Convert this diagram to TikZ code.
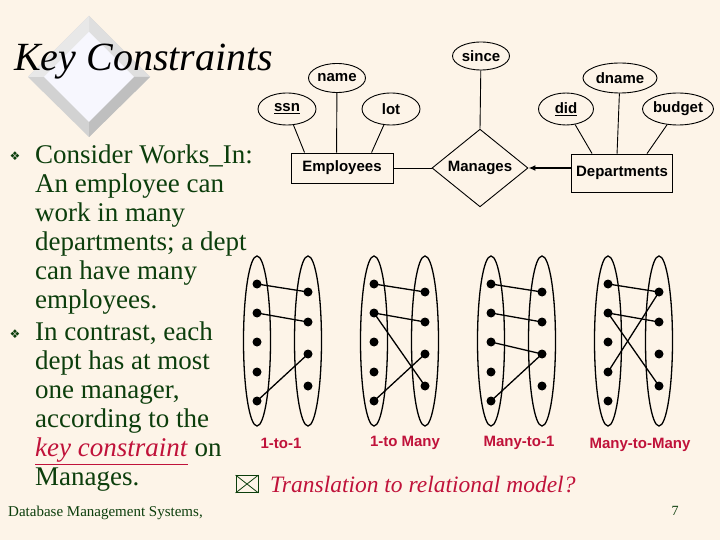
\documentclass[tikz,border=0pt]{standalone}
\usepackage{fontspec}
\setmainfont{Liberation Serif}
\newfontfamily\arialfont{Liberation Sans}
\newfontfamily\symfont{DejaVu Sans}
\usetikzlibrary{shapes.geometric,arrows.meta,positioning}
\definecolor{cream}{RGB}{253,244,232}
\definecolor{slidegreen}{RGB}{12,62,12}
\definecolor{crimson}{RGB}{192,18,58}
\tikzset{
  attr/.style={draw, ellipse, inner sep=0pt, line width=0.9pt,
    font=\arialfont\bfseries\fontsize{15}{15}\selectfont},
  entity/.style={draw, rectangle, inner sep=0pt, line width=0.9pt,
    font=\arialfont\bfseries\fontsize{15}{15}\selectfont},
  relship/.style={draw, diamond, inner sep=0pt, line width=0.9pt,
    minimum width=96, minimum height=72,
    font=\arialfont\bfseries\fontsize{15}{15}\selectfont},
  setoval/.style={draw, ellipse, line width=1.3pt, minimum width=27, minimum height=170},
  elem/.style={circle, fill=black, inner sep=0pt, minimum size=9},
  link/.style={line width=1.3pt},
  kindlbl/.style={text=crimson, font=\arialfont\bfseries\fontsize{15}{15}\selectfont},
  bodytext/.style={text=slidegreen, inner sep=0pt, align=left, anchor=north west,
    font=\fontsize{27}{29}\selectfont},
  bulletmark/.style={text=slidegreen, inner sep=0pt, font=\symfont\fontsize{12}{12}\selectfont}
}
\begin{document}
\begin{tikzpicture}[x=1pt, y=-1pt]
  \fill[cream] (0,0) rectangle (720,540);
  \useasboundingbox (0,0) rectangle (720,540);
  % title with bevelled diamond
  \fill[gray!35] (89,16) -- (150,77) -- (89,137) -- (28,77) -- cycle;
  \fill[gray!25] (89,16) -- (150,77) -- (89,77) -- cycle;
  \fill[gray!18] (89,16) -- (28,77) -- (89,77) -- cycle;
  \fill[gray!50] (89,137) -- (150,77) -- (89,77) -- cycle;
  \fill[black!10!blue!3!white] (89,32) -- (134,77) -- (89,122) -- (44,77) -- cycle;
  \node[anchor=base west, inner sep=0pt, font=\itshape\fontsize{40}{40}\selectfont] (title) at (14,71) {Key Constraints};
  % bullets
  \node[bulletmark] (b1) at (15,156) {❖};
  \node[bodytext] (p1) at (35,145) {Consider Works\_In:\\An employee can\\work in many\\departments; a dept\\can have many\\employees.};
  \node[bulletmark] (b2) at (15,334) {❖};
  \node[bodytext] (p2) at (35,322) {In contrast, each\\dept has at most\\one manager,\\according to the\\\textcolor{crimson}{\underline{\textit{key constraint}}} on\\Manages.};
  % ER diagram
  \node[entity, minimum width=102, minimum height=30] (emp) at (342,168) {Employees};
  \node[relship] (man) at (480,168) {\raisebox{-4pt}{Manages}};
  \node[entity, minimum width=101, minimum height=38] (dep) at (622,173) {Departments};
  \node[attr, minimum width=58, minimum height=32] (ssn) at (287,109) {\underline{ssn}};
  \node[attr, minimum width=57, minimum height=29] (name) at (337,78) {name};
  \node[attr, minimum width=58, minimum height=32] (lot) at (391,109) {lot};
  \node[attr, minimum width=57, minimum height=28] (since) at (481,56) {since};
  \node[attr, minimum width=55, minimum height=32] (did) at (566,109) {\underline{did}};
  \node[attr, minimum width=74, minimum height=30] (dname) at (620,78) {dname};
  \node[attr, minimum width=71, minimum height=32] (budget) at (678,109) {budget};
  \draw[line width=0.9pt] (ssn) -- ([xshift=14]emp.north west);
  \draw[line width=0.9pt] (name) -- ([xshift=46]emp.north west);
  \draw[line width=0.9pt] (lot) -- ([xshift=81]emp.north west);
  \draw[line width=0.9pt] (since) -- (man.north);
  \draw[line width=0.9pt] (did) -- ([xshift=21]dep.north west);
  \draw[line width=0.9pt] (dname) -- ([xshift=46]dep.north west);
  \draw[line width=0.9pt] (budget) -- ([xshift=76]dep.north west);
  \draw[line width=0.9pt] (emp.east) -- (man.west);
  \draw[line width=1.4pt, -{Latex[length=7pt, width=6pt]}] (dep.west |- man.east) -- (man.east);
  % mapping kinds
  \foreach \p/\x in {1/257, 2/374, 3/491, 4/608} {
    \node[setoval] (lset\p) at (\x,341) {};
    \node[setoval] (rset\p) at (\x+51,341) {};
    \foreach \i/\y in {1/284, 2/313, 3/342, 4/372, 5/401}
      \node[elem] (l\p-\i) at (\x,\y) {};
    \foreach \i/\y in {1/292, 2/322, 3/354, 4/386}
      \node[elem] (r\p-\i) at (\x+51,\y) {};
  }
  \foreach \a/\b in {1-1/1-1, 1-2/1-2, 1-5/1-3,
                     2-1/2-1, 2-2/2-2, 2-2/2-4, 2-5/2-3,
                     3-1/3-1, 3-2/3-2, 3-3/3-3, 3-5/3-3,
                     4-1/4-1, 4-2/4-2, 4-2/4-4, 4-4/4-1}
    \draw[link] (l\a.center) -- (r\b.center);
  \node[kindlbl] (k1) at (281,443) {1-to-1};
  \node[kindlbl] (k2) at (405,443) {1-to Many};
  \node[kindlbl] (k3) at (519,443) {Many-to-1};
  \node[kindlbl] (k4) at (640,445) {Many-to-Many};
  % closing question
  \node[draw=slidegreen, line width=0.8pt, minimum width=22, minimum height=17, inner sep=0pt] (env) at (247,484) {};
  \draw[slidegreen, line width=0.8pt] (env.north west) -- (env.south east) (env.north east) -- (env.south west);
  \node[anchor=base west, inner sep=0pt, text=crimson, font=\itshape\fontsize{23.5}{23.5}\selectfont] (q) at (270,492) {Translation to relational model?};
  % footer
  \node[anchor=base west, inner sep=0pt, text=slidegreen, font=\fontsize{15}{15}\selectfont] (foot) at (8,516) {Database Management Systems,};
  \node[anchor=base, inner sep=0pt, text=slidegreen, font=\fontsize{14}{14}\selectfont] (pg) at (675,515) {7};
\end{tikzpicture}
\end{document}
